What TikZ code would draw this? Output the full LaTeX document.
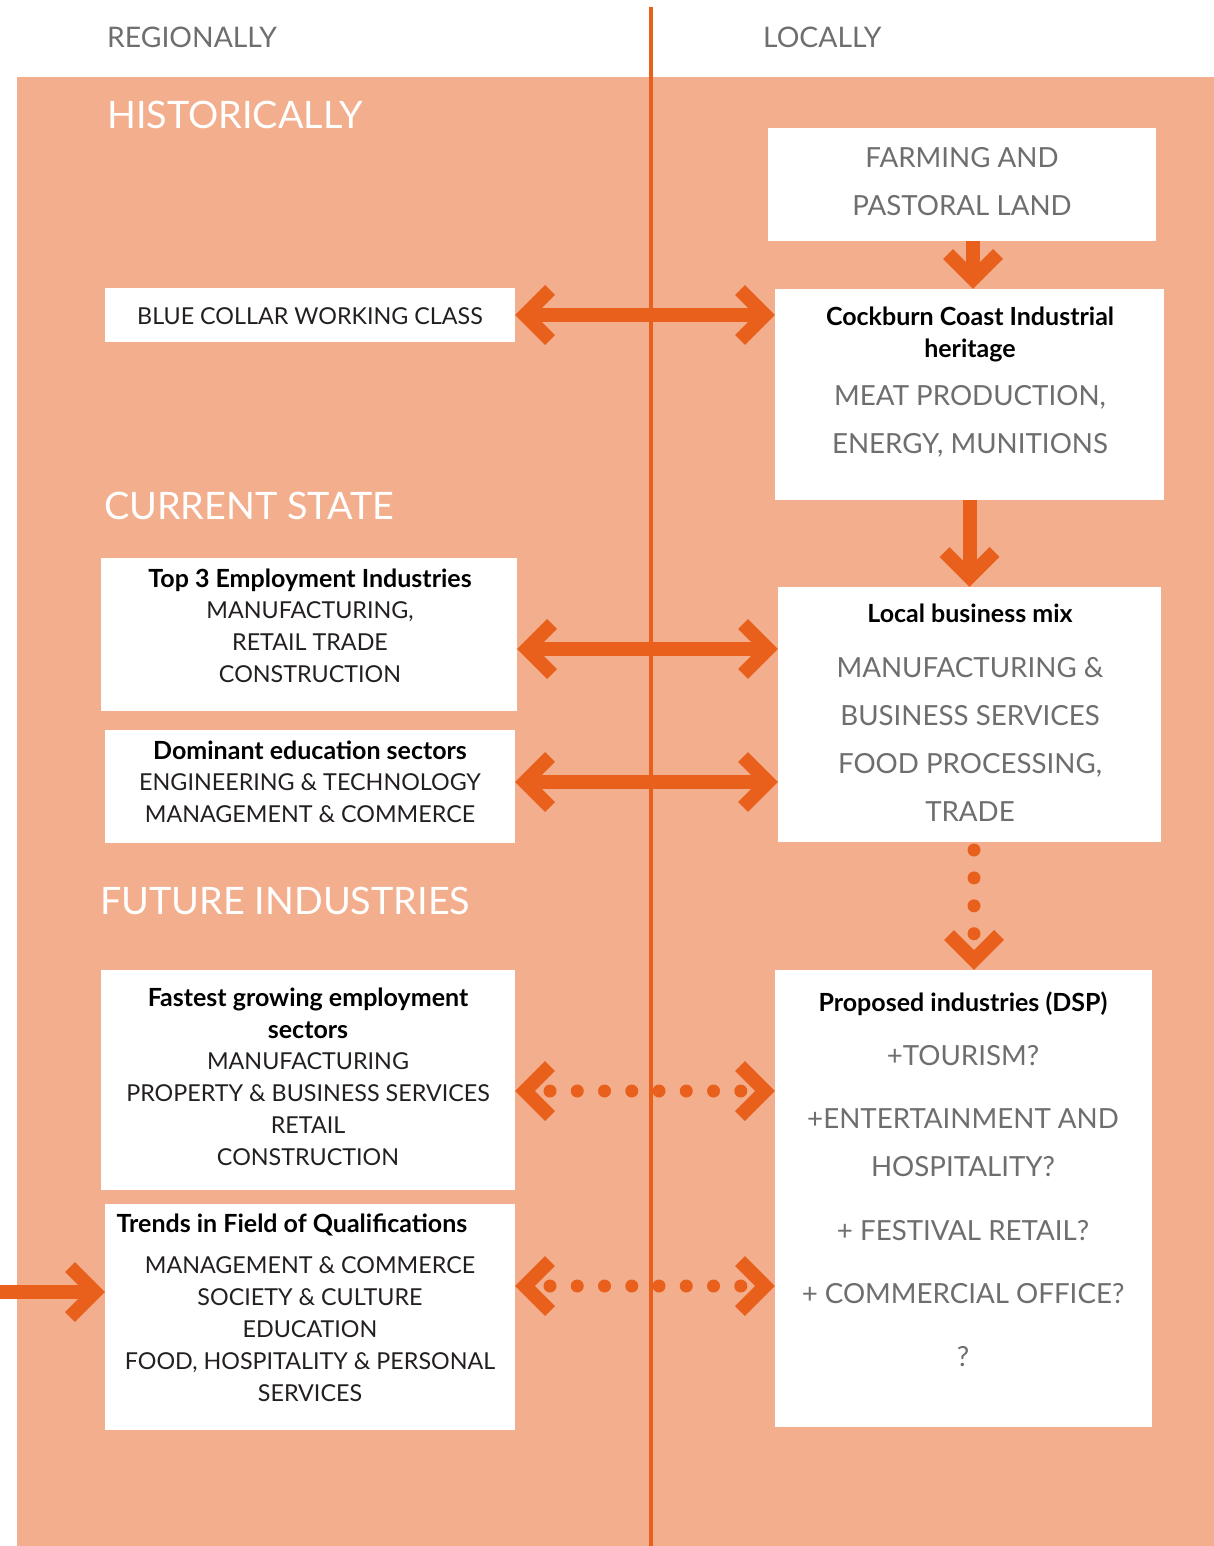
\documentclass[tikz,border=0pt]{standalone}
\usepackage{fontspec}
\setmainfont{Lato}
\usetikzlibrary{calc}
\definecolor{bgor}{HTML}{F3AF8D}
\definecolor{arr}{HTML}{E8601C}
\definecolor{gtx}{HTML}{6D6E70}
\definecolor{dtx}{HTML}{231F20}
\begin{document}
\begin{tikzpicture}[x=1pt,y=-1pt,
 box/.style={fill=white, inner sep=0pt, outer sep=0pt, anchor=north west},
 lt/.style={inner sep=0pt, anchor=base, text=dtx, font=\fontsize{23.3}{26}\selectfont},
 rt/.style={inner sep=0pt, anchor=base, text=gtx, font=\fontsize{27.7}{30}\selectfont},
 bt/.style={inner sep=0pt, anchor=base, text=black, font=\fontsize{25}{28}\selectfont\bfseries},
 sec/.style={inner sep=0pt, anchor=base west, text=white, font=\fontsize{37.8}{42}\selectfont},
 toplab/.style={inner sep=0pt, anchor=base west, text=gtx, font=\fontsize{28.3}{32}\selectfont},
 shaft/.style={draw=arr, line width=14pt},
 dotl/.style={draw=arr, line width=13pt, line cap=round, dash pattern=on 0pt off 27.25pt},
 chev/.style={draw=arr, line width=14pt, miter limit=10},
 chevron/.pic={\draw[chev] (-35,-25) -- (-10,0) -- (-35,25);}
]
\useasboundingbox (0,0) rectangle (1214,1546);
\fill[bgor] (17,77) rectangle (1214,1546);
\draw[arr, line width=4pt] (651,7) -- (651,1546);

% top labels and section titles
\node[toplab] (reg) at (107,48) {REGIONALLY};
\node[toplab] (loc) at (763,48) {LOCALLY};
\node[sec] (hist) at (107,129) {HISTORICALLY};
\node[sec] (cur) at (104,519) {CURRENT STATE};
\node[sec] (fut) at (100,914) {FUTURE INDUSTRIES};

% boxes
\node[box, minimum width=388pt, minimum height=113pt] (farm) at (768,128) {};
\node[box, minimum width=410pt, minimum height=54pt] (blue) at (105,288) {};
\node[box, minimum width=389pt, minimum height=211pt] (cock) at (775,289) {};
\node[box, minimum width=416pt, minimum height=153pt] (top3) at (101,558) {};
\node[box, minimum width=410pt, minimum height=113pt] (dom) at (105,730) {};
\node[box, minimum width=383pt, minimum height=255pt] (local) at (778,587) {};
\node[box, minimum width=414pt, minimum height=220pt] (fast) at (101,970) {};
\node[box, minimum width=410pt, minimum height=226pt] (trend) at (105,1204) {};
\node[box, minimum width=377pt, minimum height=457pt] (prop) at (775,970) {};

% box texts
\node[rt] (f1) at (962,168) {FARMING AND};
\node[rt] (f2) at (962,216) {PASTORAL LAND};

\node[lt] (b1) at (310,324) {BLUE COLLAR WORKING CLASS};

\node[bt] (c1) at (970,325) {Cockburn Coast Industrial};
\node[bt] (c2) at (970,357) {heritage};
\node[rt] (c3) at (970,405) {MEAT PRODUCTION,};
\node[rt] (c4) at (970,453) {ENERGY, MUNITIONS};

\node[bt] (t1) at (310,587) {Top 3 Employment Industries};
\node[lt] (t2) at (310,618) {MANUFACTURING,};
\node[lt] (t3) at (310,650) {RETAIL TRADE};
\node[lt] (t4) at (310,682) {CONSTRUCTION};

\node[bt] (d1) at (310,759) {Dominant education sectors};
\node[lt] (d2) at (310,790) {ENGINEERING \& TECHNOLOGY};
\node[lt] (d3) at (310,822) {MANAGEMENT \& COMMERCE};

\node[bt] (l1) at (970,622) {Local business mix};
\node[rt] (l2) at (970,677) {MANUFACTURING \&};
\node[rt] (l3) at (970,725) {BUSINESS SERVICES};
\node[rt] (l4) at (970,773) {FOOD PROCESSING,};
\node[rt] (l5) at (970,821) {TRADE};

\node[bt] (g1) at (308,1006) {Fastest growing employment};
\node[bt] (g2) at (308,1038) {sectors};
\node[lt] (g3) at (308,1069) {MANUFACTURING};
\node[lt] (g4) at (308,1101) {PROPERTY \& BUSINESS SERVICES};
\node[lt] (g5) at (308,1133) {RETAIL};
\node[lt] (g6) at (308,1165) {CONSTRUCTION};

\node[bt] (q1) at (292,1232) {Trends in Field of Qualifications};
\node[lt] (q2) at (310,1273) {MANAGEMENT \& COMMERCE};
\node[lt] (q3) at (310,1305) {SOCIETY \& CULTURE};
\node[lt] (q4) at (310,1337) {EDUCATION};
\node[lt] (q5) at (310,1369) {FOOD, HOSPITALITY \& PERSONAL};
\node[lt] (q6) at (310,1401) {SERVICES};

\node[bt] (p1) at (963,1011) {Proposed industries (DSP)};
\node[rt] (p2) at (963,1065) {+TOURISM?};
\node[rt] (p3) at (963,1128) {+ENTERTAINMENT AND};
\node[rt] (p4) at (963,1176) {HOSPITALITY?};
\node[rt] (p5) at (963,1240) {+ FESTIVAL RETAIL?};
\node[rt] (p6) at (963,1303) {+ COMMERCIAL OFFICE?};
\node[rt] (p7) at (963,1366) {?};

% connectors
% farm -> cockburn
\coordinate (a1) at ($(farm.south)+(11,0)$);
\draw[shaft, shorten >=12pt] (a1) -- (a1 |- cock.north);
\pic[rotate=-90] at (a1 |- cock.north) {chevron};
% cockburn -> local
\draw[shaft, shorten >=12pt] (cock.south) -- (local.north);
\pic[rotate=-90] at (local.north) {chevron};
% blue <-> cockburn
\draw[shaft, shorten <=12pt, shorten >=12pt] (blue.east) -- (blue.east -| cock.west);
\pic[rotate=180] at (blue.east) {chevron};
\pic at (blue.east -| cock.west) {chevron};
% top3 <-> local
\coordinate (a3) at ($(top3.east)+(0,14.5)$);
\draw[shaft, shorten <=12pt, shorten >=12pt] (a3) -- (a3 -| local.west);
\pic[rotate=180] at (a3) {chevron};
\pic at (a3 -| local.west) {chevron};
% dom <-> local
\coordinate (a4) at ($(dom.east)+(0,-4.5)$);
\draw[shaft, shorten <=12pt, shorten >=12pt] (a4) -- (a4 -| local.west);
\pic[rotate=180] at (a4) {chevron};
\pic at (a4 -| local.west) {chevron};
% local -> proposed (dotted)
\coordinate (a5) at ($(local.south)+(4.5,0)$);
\draw[dotl, dash pattern=on 0pt off 27.9pt, shorten <=8pt, shorten >=35.5pt] (a5) -- (a5 |- prop.north);
\pic[rotate=-90] at (a5 |- prop.north) {chevron};
% fastest <-> proposed (dotted)
\coordinate (a6) at ($(fast.east)+(0,11)$);
\draw[dotl, shorten <=35pt, shorten >=33.8pt] (a6) -- (a6 -| prop.west);
\pic[rotate=180] at (a6) {chevron};
\pic at (a6 -| prop.west) {chevron};
% trends <-> proposed (dotted)
\coordinate (a7) at ($(trend.east)+(0,-31)$);
\draw[dotl, shorten <=35pt, shorten >=33.8pt] (a7) -- (a7 -| prop.west);
\pic[rotate=180] at (a7) {chevron};
\pic at (a7 -| prop.west) {chevron};
% incoming arrow to trends
\coordinate (lin) at (0,1292);
\draw[shaft, shorten >=12pt] (lin) -- (lin -| trend.west);
\pic at (lin -| trend.west) {chevron};
\end{tikzpicture}
\end{document}
